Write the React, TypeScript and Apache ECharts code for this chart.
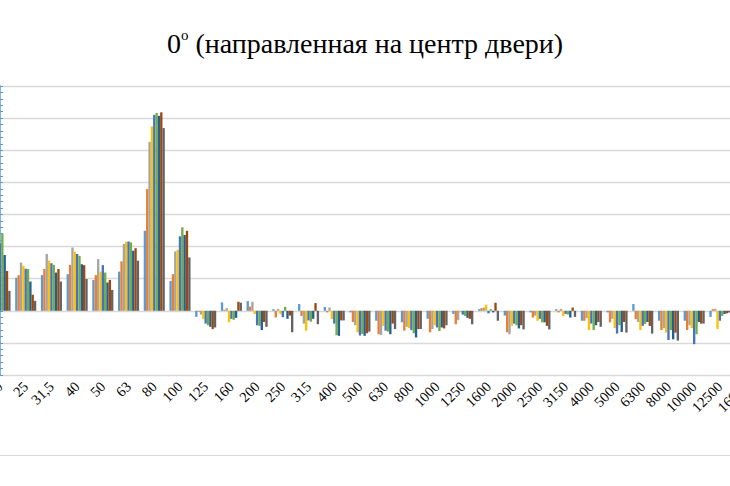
import React, { useEffect, useRef } from "react";
import * as echarts from "echarts";

const categories = ["20", "25", "31,5", "40", "50", "63", "80", "100", "125", "160", "200", "250", "315", "400", "500", "630", "800", "1000", "1250", "1600", "2000", "2500", "3150", "4000", "5000", "6300", "8000", "10000", "12500", "16000"];

const s1 = [12, 10.3, 11.1, 11.4, 9.6, 12.2, 24.9, 9.3, -1.9, 2.6, 3, 0.5, 2.1, 1.2, -0.5, -3.1, -3.6, -2.5, -1, 0.5, -1.5, -0.5, 0.5, -3.1, -0.5, 2.1, -3.1, -3.1, -1.9, -1.5];
const s2 = [14, 11.1, 13, 14.3, 11.1, 15.4, 37.9, 11.4, -0.3, 0.3, 1.3, -2.1, -1.6, -0.5, -3.5, -7.3, -6.2, -6.7, -4.2, 0.8, -6.7, -2.1, -0.5, -3.1, -3.6, -2.6, -6, -6, 0.5, -3];
const s3 = [17, 15, 17.7, 19.7, 16.1, 20.8, 52.6, 18.5, -1.2, 0.8, 2.8, 0.6, -4, 1, -4.5, -7.5, -5, -5.7, -2.9, 1, -7.3, -1.5, 0.6, -2.3, -2.5, -3.5, -5.4, -4.5, 0.6, -2];
const s4 = [16, 14, 15.6, 18.4, 12.2, 21.5, 57.4, 19, -2.6, -3.6, -1, -1, -6.2, -2.6, -6.7, -4.7, -5.4, -4.5, -0.5, 1.9, -4.7, -3.1, -1.6, -6, -5.4, -6, -6.8, -5.4, -5.7, -4];
const s5 = [21, 13.1, 14.8, 17.7, 14.2, 21.6, 61, 23.2, -4, -2.5, -4.5, -2, -3, -4, -7.7, -6.2, -6, -5.2, -1.2, -0.8, -4, -2.5, -1, -4, -7.1, -4.7, -9.1, -10.4, -3.1, -3];
const s6 = [24, 13, 14.3, 17.1, 11.9, 21.3, 61.6, 26, -4.5, -2.8, -4.7, 1.2, -3.4, -7.6, -7.2, -6.5, -7, -6.3, -1.6, 0.5, -4.5, -3.6, -1.2, -6, -4.5, -4.1, -6, -7.3, -1.6, -2];
const s7 = [17.4, 9.1, 11.9, 14.5, 8.8, 18.7, 60.7, 23.6, -5, -2.2, -6, -2.5, -2.5, -7.8, -7.8, -7.3, -8.3, -5.2, -2.2, -0.5, -5.5, -3.6, -2.1, -4.5, -6.6, -3.5, -8.9, -3.5, -1, -2.5];
const s8 = [12.4, 5, 13, 14.2, 9.6, 19.5, 61.8, 24.9, -5.7, 2.8, -3.5, -1.5, 2.4, -3, -7, -4, -5.7, -5.5, -2.5, 2.5, -4.5, -4.7, 1, -3.5, -3.5, -4.7, -6.8, -4, -0.8, -3];
const s9 = [6.2, 3.1, 9.1, 9.9, 6.5, 15.6, 56.9, 16.6, -5.2, 2.5, -5, -6.7, -4.2, -3, -6.5, -5.7, -5.7, -4.5, -4.2, -3.1, -5.8, -5.8, -1.9, -5, -6.8, -7.1, -9.3, -4, -0.5, -3];

const seriesValues = [s1, s2, s3, s4, s5, s6, s7, s8, s9];
const seriesNames = ["Ряд 1", "Ряд 2", "Ряд 3", "Ряд 4", "Ряд 5", "Ряд 6", "Ряд 7", "Ряд 8", "Ряд 9"];
const colors = ["#5B9BD5", "#ED7D31", "#A5A5A5", "#FFC000", "#4472C4", "#70AD47", "#255E91", "#9E480E", "#636363"];

const SERIF = "'Liberation Serif', 'Times New Roman', serif";

export default function App() {
  const ref = useRef<HTMLDivElement>(null);
  useEffect(() => {
    if (!ref.current) return;
    const chart = echarts.init(ref.current, undefined, { renderer: "svg" });
    chart.setOption({
      animation: false,
      backgroundColor: "#ffffff",
      color: colors,
      title: {
        text: "{n|0}{s|o}{n| (направленная на центр двери)}",
        left: "center",
        top: 22,
        textStyle: {
          fontWeight: "normal",
          rich: {
            n: { fontFamily: SERIF, fontSize: 28, fontWeight: "normal", color: "#000", lineHeight: 32 },
            s: { fontFamily: SERIF, fontSize: 15, fontWeight: "normal", color: "#000", lineHeight: 14, verticalAlign: "top" },
          },
        },
      },
      grid: { left: 0, right: -15.6, top: 86, bottom: 111, containLabel: false, outerBoundsMode: "none" },
      xAxis: {
        type: "category",
        data: categories,
        boundaryGap: false,
        axisLine: { show: false, onZero: false },
        axisTick: { show: false },
        splitLine: { show: false },
        axisLabel: {
          interval: 0,
          rotate: 45,
          margin: 9,
          fontFamily: SERIF,
          fontSize: 14.5,
          color: "#000",
          hideOverlap: false,
        },
      },
      yAxis: {
        type: "value",
        min: -20,
        max: 70,
        interval: 10,
        axisLabel: { show: false },
        axisLine: { show: true, lineStyle: { color: "#5B9BD5", width: 1.5 } },
        axisTick: { show: true, inside: true, length: 3, lineStyle: { color: "#5B9BD5" } },
        minorTick: { show: true, splitNumber: 5, length: 3, lineStyle: { color: "#5B9BD5" } },
        splitLine: { show: true, lineStyle: { color: "#d9d9d9", width: 1.3 } },
      },
      series: seriesValues.map((vals, i) => ({
        name: seriesNames[i],
        type: "bar",
        data: vals,
        clip: false,
        barGap: "0%",
        barCategoryGap: "18%",
        itemStyle: { color: colors[i] },
      })),
      graphic: [
        {
          type: "line",
          shape: { x1: 0, y1: 455.5, x2: 730, y2: 455.5 },
          style: { stroke: "#d9d9d9", lineWidth: 1 },
        },
      ],
    });
    return () => chart.dispose();
  }, []);
  return (
    <div
      ref={ref}
      style={{ position: "absolute", left: 0, top: 0, width: 730, height: 486, background: "#fff" }}
    />
  );
}
